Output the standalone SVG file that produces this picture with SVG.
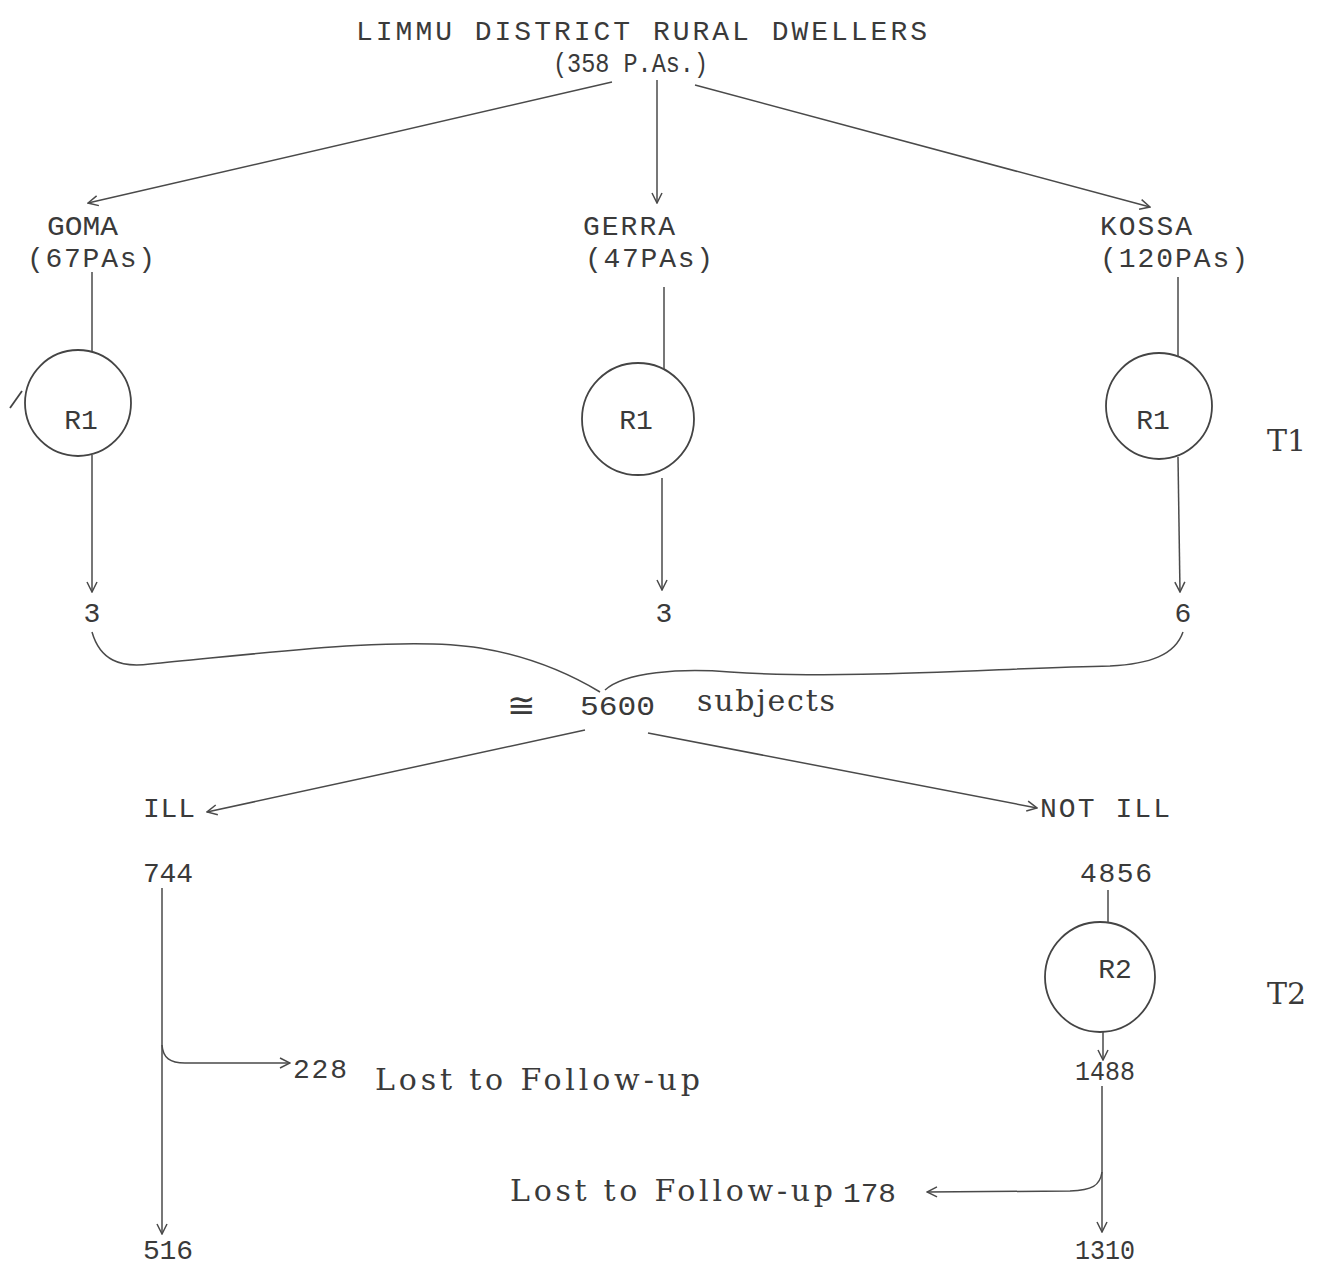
<svg xmlns="http://www.w3.org/2000/svg" width="1317" height="1268" viewBox="0 0 1317 1268">
<defs>
<style>
.s{font-family:"Liberation Mono","Courier New",monospace;font-size:28px;fill:#3a3a3a}
.m{font-family:"DejaVu Serif","Liberation Serif",serif;font-size:30px;fill:#3a3a3a}
.ln{fill:none;stroke:#4a4a4a;stroke-width:1.5}
.c{fill:none;stroke:#444;stroke-width:1.8}
</style>
<marker id="ah" viewBox="0 0 12 12" refX="11" refY="6" markerWidth="12" markerHeight="12" markerUnits="userSpaceOnUse" orient="auto">
<path d="M1,1 L11,6 L1,11" fill="none" stroke="#4a4a4a" stroke-width="1.5"/>
</marker>
</defs>
<rect width="1317" height="1268" fill="#ffffff"/>

<g id="title">
<text class="s" x="356" y="40" textLength="571" lengthAdjust="spacing">LIMMU DISTRICT RURAL DWELLERS</text>
<text class="s" x="553" y="72" font-size="25" textLength="155" lengthAdjust="spacingAndGlyphs">(358 P.As.)</text>
</g>

<g id="goma">
<text class="s" x="47" y="235" textLength="71" lengthAdjust="spacingAndGlyphs">GOMA</text>
<text class="s" x="27" y="267" textLength="128" lengthAdjust="spacing">(67PAs)</text>
</g>
<g id="gerra">
<text class="s" x="583" y="235" textLength="92" lengthAdjust="spacing">GERRA</text>
<text class="s" x="585" y="267" textLength="128" lengthAdjust="spacing">(47PAs)</text>
</g>
<g id="kossa">
<text class="s" x="1100" y="235" textLength="92" lengthAdjust="spacing">KOSSA</text>
<text class="s" x="1100" y="267" textLength="148" lengthAdjust="spacing">(120PAs)</text>
</g>

<g id="r1-goma">
<circle class="c" cx="78" cy="403" r="53"/>
<path class="c" d="M10,408 L22,391"/>
<text class="s" x="81" y="429" text-anchor="middle">R1</text>
</g>
<g id="r1-gerra">
<circle class="c" cx="638" cy="419" r="56"/>
<text class="s" x="636" y="429" text-anchor="middle">R1</text>
</g>
<g id="r1-kossa">
<circle class="c" cx="1159" cy="406" r="53"/>
<text class="s" x="1153" y="429" text-anchor="middle">R1</text>
</g>

<g id="t1"><text class="m" x="1267" y="451" font-size="28">T1</text></g>
<g id="t2"><text class="m" x="1267" y="1004" font-size="28">T2</text></g>

<g id="n-goma3"><text class="s" x="92" y="622" text-anchor="middle">3</text></g>
<g id="n-gerra3"><text class="s" x="664" y="622" text-anchor="middle">3</text></g>
<g id="n-kossa6"><text class="s" x="1183" y="622" text-anchor="middle">6</text></g>

<g id="subjects">
<text x="507" y="717" font-family="DejaVu Sans,sans-serif" font-size="34" fill="#3a3a3a">≅</text>
<text class="s" x="580" y="715" textLength="75" lengthAdjust="spacingAndGlyphs">5600</text>
<text class="m" x="697" y="711" textLength="138" lengthAdjust="spacing">subjects</text>
</g>

<g id="ill">
<text class="s" x="143" y="817" textLength="52" lengthAdjust="spacing">ILL</text>
<text class="s" x="143" y="882" textLength="50" lengthAdjust="spacing">744</text>
</g>
<g id="notill">
<text class="s" x="1040" y="817" textLength="130" lengthAdjust="spacing">NOT ILL</text>
<text class="s" x="1080" y="882" textLength="72" lengthAdjust="spacing">4856</text>
</g>

<g id="r2">
<circle class="c" cx="1100" cy="977" r="55"/>
<text class="s" x="1115" y="978" text-anchor="middle">R2</text>
</g>

<g id="lost-ill">
<text class="s" x="293" y="1078" textLength="54" lengthAdjust="spacing">228</text>
<text class="m" x="375" y="1090" textLength="325" lengthAdjust="spacing">Lost to Follow-up</text>
</g>
<g id="n516"><text class="s" x="143" y="1259" textLength="50" lengthAdjust="spacing">516</text></g>

<g id="n1488"><text class="s" x="1075" y="1080" textLength="60" lengthAdjust="spacingAndGlyphs">1488</text></g>
<g id="lost-notill">
<text class="m" x="510" y="1201" textLength="323" lengthAdjust="spacing">Lost to Follow-up</text>
<text class="s" x="843" y="1202" textLength="53" lengthAdjust="spacingAndGlyphs">178</text>
</g>
<g id="n1310"><text class="s" x="1075" y="1259" textLength="60" lengthAdjust="spacingAndGlyphs">1310</text></g>

<g id="connectors">
<path class="ln" d="M612,82 L88,203" marker-end="url(#ah)"/>
<path class="ln" d="M657,80 L657,203" marker-end="url(#ah)"/>
<path class="ln" d="M695,85 L1150,207" marker-end="url(#ah)"/>

<path class="ln" d="M92,272 L92,351"/>
<path class="ln" d="M92,455 L92,592" marker-end="url(#ah)"/>
<path class="ln" d="M664,287 L664,369"/>
<path class="ln" d="M662,478 L662,590" marker-end="url(#ah)"/>
<path class="ln" d="M1178,277 L1178,357"/>
<path class="ln" d="M1178,457 L1180,592" marker-end="url(#ah)"/>

<path class="ln" d="M92,632 C100,660 120,668 150,664 C250,655 400,635 480,648 C540,658 580,680 600,692"/>
<path class="ln" d="M605,690 C625,672 680,668 730,672 C850,680 1000,668 1110,666 C1150,664 1175,655 1183,632"/>

<path class="ln" d="M585,730 L207,812" marker-end="url(#ah)"/>
<path class="ln" d="M648,733 L1037,808" marker-end="url(#ah)"/>

<path class="ln" d="M162,888 L162,1234" marker-end="url(#ah)"/>
<path class="ln" d="M162,1045 C163,1058 170,1063 185,1063 L290,1063" marker-end="url(#ah)"/>

<path class="ln" d="M1108,890 L1108,923"/>
<path class="ln" d="M1103,1032 L1103,1060" marker-end="url(#ah)"/>
<path class="ln" d="M1102,1086 L1102,1232" marker-end="url(#ah)"/>
<path class="ln" d="M1102,1172 C1100,1186 1092,1190 1070,1191 L927,1192" marker-end="url(#ah)"/>
</g>
</svg>
